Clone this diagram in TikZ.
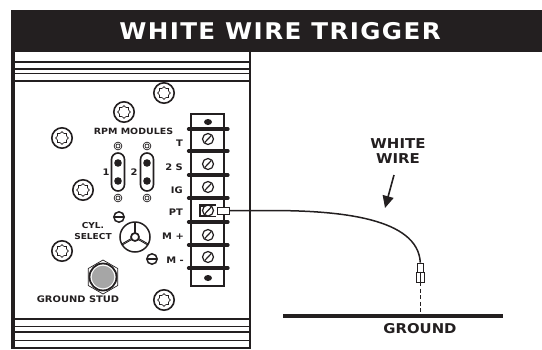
\documentclass[tikz,border=0pt]{standalone}
\usepackage{fontspec}
\setmainfont{DejaVu Sans Bold}[FakeStretch=1.1]
\newfontfamily\ttlfont{DejaVu Sans Bold}[LetterSpace=6,FakeStretch=1.07]
\usetikzlibrary{arrows.meta,shapes.geometric}
\definecolor{ink}{HTML}{231F20}
\tikzset{
  lab/.style={font=\fontsize{9}{11}\selectfont,text=ink,inner sep=0pt,align=center},
  tlab/.style={lab,anchor=east,font=\fontsize{9}{10}\selectfont},
  panel/.style={draw=ink,line width=1.6pt},
  slotscrew/.style={draw=ink,line width=1.2pt,fill=white},
  termbar/.style={draw=ink,line width=3.2pt,line cap=round},
  pill/.style={draw=ink,line width=1.6pt,rounded corners=6.5pt,fill=white},
  dot/.style={fill=ink,draw=none},
}
\newcommand{\mountscrew}[2]{%
  \draw[ink,line width=1.6pt,fill=white] (#1,#2) circle (10.2);
  \draw[ink,line width=.7pt] plot[smooth cycle,samples=16,domain=0:337.5] ({#1+(6.3+(mod(round(\x/22.5),2))*(-1.3))*cos(\x)},{#2+(6.3+(mod(round(\x/22.5),2))*(-1.3))*sin(\x)});
}
\newcommand{\termscrew}[2]{%
  \draw[slotscrew] (#1,#2) circle (5.5);
  \draw[ink,line width=1.2pt] (#1-3.2,#2+3.4) -- (#1+3.2,#2-3.4);
}
\newcommand{\smallring}[2]{%
  \draw[ink,line width=.7pt] (#1,#2) circle (3.9);
  \draw[ink,line width=.7pt] (#1,#2) circle (2);
}
\newcommand{\knob}[2]{%
  \draw[ink,line width=1.5pt,fill=white] (#1,#2) circle (5.2);
  \draw[ink,line width=1.5pt] (#1-5,#2) -- (#1+5,#2);
}
\begin{document}
\begin{tikzpicture}[x=1pt,y=-1pt]
\useasboundingbox (0,0) rectangle (542,349);
\fill[white] (0,0) rectangle (542,349);
% header
\fill[ink] (11,10) rectangle (542,52);
\node[text=white,inner sep=0pt,font=\ttlfont\fontsize{23}{25}\selectfont] (title) at (280,31) {WHITE WIRE TRIGGER};
% panel
\fill[ink] (11,52) rectangle (14.5,349);
\draw[ink,line width=1.2pt] (250,52) -- (250,349);
\foreach \y/\w in {62/1.2, 69/1.8, 73.5/1, 81/2, 319/2, 326/1, 332/1.8, 340/1, 348/1.2}
  \draw[ink,line width=\w pt] (14,\y) -- (250,\y);
% mounting screws
\mountscrew{164}{93}
\mountscrew{124}{112}
\mountscrew{62}{138}
\mountscrew{83}{190}
\mountscrew{62}{251}
\mountscrew{164}{300}
% terminal block
\draw[panel,fill=white] (191,114) rectangle (224,286);
\foreach \y in {129,151,175,198,222,245,268}
  \draw[termbar] (188.5,\y) -- (228,\y);
\fill[dot] (208,122) ellipse (4 and 3);
\fill[dot] (208,278) ellipse (4 and 3);
\termscrew{208}{139}
\termscrew{208}{164}
\termscrew{208}{187}
\termscrew{208}{235}
\termscrew{208}{257}
% PT terminal with lug
\fill[ink] (199,205) rectangle (206,217);
\fill[white] (201,207) rectangle (205,215);
\draw[ink,line width=1.2pt] (199,205) -- (216,205) (199,216.5) -- (216,216.5);
\termscrew{208}{210.5}
\node[draw=ink,line width=1pt,fill=white,minimum width=12pt,minimum height=7pt,inner sep=0pt] (lug) at (223,210.5) {};
% terminal labels
\node[tlab] (lt) at (183,143) {T};
\node[tlab] (ls) at (183,167) {2 S};
\node[tlab] (lig) at (183,190) {IG};
\node[tlab] (lpt) at (183,212) {PT};
\node[tlab] (lmp) at (184,236) {M +};
\node[tlab] (lmm) at (184,260) {M -};
% RPM modules
\node[lab,font=\fontsize{8.6}{10}\selectfont] (rpm) at (133.5,131) {RPM MODULES};
\smallring{118}{146}
\smallring{147}{146}
\smallring{118}{198}
\smallring{147}{198}
\draw[pill] (111.5,153) rectangle (124.5,191);
\draw[pill] (140.5,153) rectangle (153.5,191);
\foreach \x in {118,147} \foreach \y in {163,181}
  \fill[dot] (\x,\y) circle (3.8);
\node[lab] (m1) at (106,172) {1};
\node[lab] (m2) at (134,172) {2};
% cylinder select
\node[lab,font=\fontsize{8.2}{11}\selectfont] (cyl) at (93,231) {CYL.\\SELECT};
\draw[ink,line width=1.5pt] (135,237) circle (15);
\draw[ink,line width=1.7pt] (135,237) circle (4);
\foreach \a in {-90,30,150}{
  \draw[ink,line width=.9pt] (135,237) ++(\a-8:4) -- ++(\a:10.5);
  \draw[ink,line width=.9pt] (135,237) ++(\a+8:4) -- ++(\a:10.5);
}
\knob{119}{217}
\knob{152}{259}
% ground stud
\node[regular polygon,regular polygon sides=6,draw=ink,line width=.7pt,minimum size=34pt,inner sep=0pt,fill=white,shape border rotate=90] (hex) at (103,277) {};
\draw[ink,line width=1.8pt,fill=white] (103,277) circle (13.5);
\fill[black!35] (103,277) circle (11.3);
\node[lab] (gs) at (78,299) {GROUND STUD};
% right side
\node[inner sep=0pt,draw=ink,line width=.8pt,fill=white,minimum width=5.5pt,minimum height=9pt] (c1) at (420.3,267.5) {};
\node[inner sep=0pt,draw=ink,line width=.8pt,fill=white,minimum width=8.5pt,minimum height=10pt] (c2) at (420.3,277) {};
\draw[ink,line width=.7pt] (c2.north) -- (c2.south);
\draw[ink,line width=1.5pt] (lug.east) -- (270,210.5) .. controls (340,210.5) and (418,218) .. (c1.north);
\coordinate (g) at (420.3,314);
\draw[ink,line width=.8pt,dash pattern=on 4pt off 2.5pt] (c2.south) -- (g);
\coordinate (gl) at (283,316);
\coordinate (gr) at (503,316);
\draw[ink,line width=4.4pt] (gl) -- (gr);
\node[lab,font=\fontsize{13.5}{15}\selectfont] (gnd) at (420,329) {GROUND};
\node[lab,font=\fontsize{13.6}{15}\selectfont] (ww) at (398,151) {WHITE\\WIRE};
\coordinate (atip) at (385,208);
\draw[ink,line width=1.6pt,-{Triangle[length=12pt,width=11pt]}] (394,175) -- (atip);
\end{tikzpicture}
\end{document}
